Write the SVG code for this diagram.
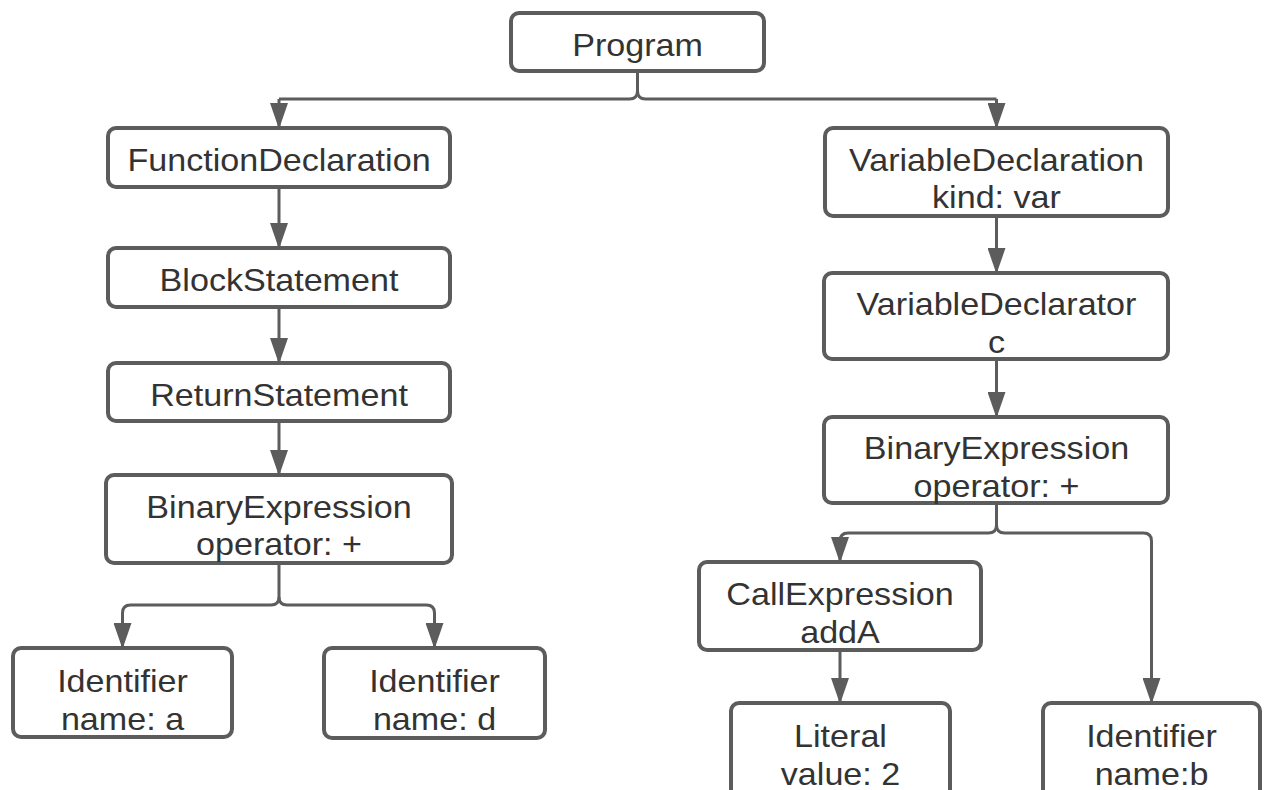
<svg xmlns="http://www.w3.org/2000/svg" width="1270" height="790" viewBox="0 0 1270 790">
  <style>
    .box { fill: #ffffff; stroke: #5c5c5c; stroke-width: 4; }
    .edge { fill: none; stroke: #5c5c5c; stroke-width: 3; marker-end: url(#ah); }
    .link { fill: none; stroke: #5c5c5c; stroke-width: 3; }
    .t { font-family: "Liberation Sans", Arial, sans-serif; font-size: 31px; fill: #333333; text-anchor: middle; }
  </style>
  <defs>
    <marker id="ah" markerUnits="userSpaceOnUse" markerWidth="26" markerHeight="18" viewBox="0 0 26 18" refX="25" refY="9" orient="auto">
      <path d="M0 0 L26 9 L0 18 Z" fill="#5c5c5c"/>
    </marker>
  </defs>
  <rect width="1270" height="790" fill="#ffffff"/>

  <!-- connectors -->
  <g id="connectors">
    <!-- Program fan-out -->
    <path class="link" d="M637.5 71 V91 Q637.5 99 629.5 99 H279"/>
    <path class="edge" d="M279 99 V128"/>
    <path class="link" d="M637.5 91 Q637.5 99 645.5 99 H996.5"/>
    <path class="edge" d="M996.5 99 V128"/>
    <!-- left chain -->
    <path class="edge" d="M279 187 V248"/>
    <path class="edge" d="M279 307 V363"/>
    <path class="edge" d="M279 421 V475"/>
    <!-- left binary expression fan-out -->
    <path class="edge" d="M279 563 V597 Q279 605 271 605 H130.5 Q122.5 605 122.5 613 V648"/>
    <path class="edge" d="M279 597 Q279 605 287 605 H426.5 Q434.5 605 434.5 613 V648"/>
    <!-- right chain -->
    <path class="edge" d="M996.5 216 V273"/>
    <path class="edge" d="M996.5 359 V417"/>
    <!-- right binary expression fan-out -->
    <path class="edge" d="M996.5 503 V525 Q996.5 533 988.5 533 H848 Q840 533 840 541 V562"/>
    <path class="edge" d="M996.5 525 Q996.5 533 1004.5 533 H1143.5 Q1151.5 533 1151.5 541 V703"/>
    <path class="edge" d="M840 650 V703"/>
  </g>

  <!-- nodes -->
  <g id="program">
    <rect class="box" x="511" y="13" width="253" height="58" rx="8"/>
    <text class="t" transform="translate(637.5 56) scale(1.1 1)">Program</text>
  </g>
  <g id="function-declaration">
    <rect class="box" x="108" y="128" width="342" height="59" rx="8"/>
    <text class="t" transform="translate(279 171) scale(1.1 1)">FunctionDeclaration</text>
  </g>
  <g id="block-statement">
    <rect class="box" x="108" y="248" width="342" height="59" rx="8"/>
    <text class="t" transform="translate(279 291) scale(1.1 1)">BlockStatement</text>
  </g>
  <g id="return-statement">
    <rect class="box" x="108" y="363" width="342" height="58" rx="8"/>
    <text class="t" transform="translate(279 406) scale(1.1 1)">ReturnStatement</text>
  </g>
  <g id="binary-expression-left">
    <rect class="box" x="106" y="475" width="346" height="88" rx="8"/>
    <text class="t" transform="translate(279 518) scale(1.1 1)">BinaryExpression</text>
    <text class="t" transform="translate(279 555) scale(1.1 1)">operator: +</text>
  </g>
  <g id="identifier-a">
    <rect class="box" x="13" y="648" width="219" height="89" rx="8"/>
    <text class="t" transform="translate(122.5 692) scale(1.1 1)">Identifier</text>
    <text class="t" transform="translate(122.5 730) scale(1.1 1)">name: a</text>
  </g>
  <g id="identifier-d">
    <rect class="box" x="324" y="648" width="221" height="90" rx="8"/>
    <text class="t" transform="translate(434.5 692) scale(1.1 1)">Identifier</text>
    <text class="t" transform="translate(434.5 730) scale(1.1 1)">name: d</text>
  </g>
  <g id="variable-declaration">
    <rect class="box" x="825" y="128" width="343" height="88" rx="8"/>
    <text class="t" transform="translate(996.5 171) scale(1.1 1)">VariableDeclaration</text>
    <text class="t" transform="translate(996.5 208) scale(1.1 1)">kind: var</text>
  </g>
  <g id="variable-declarator">
    <rect class="box" x="824" y="273" width="344" height="86" rx="8"/>
    <text class="t" transform="translate(996.5 315) scale(1.1 1)">VariableDeclarator</text>
    <text class="t" transform="translate(996.5 353) scale(1.1 1)">c</text>
  </g>
  <g id="binary-expression-right">
    <rect class="box" x="824" y="417" width="344" height="86" rx="8"/>
    <text class="t" transform="translate(996.5 459) scale(1.1 1)">BinaryExpression</text>
    <text class="t" transform="translate(996.5 497) scale(1.1 1)">operator: +</text>
  </g>
  <g id="call-expression">
    <rect class="box" x="699" y="562" width="282" height="88" rx="8"/>
    <text class="t" transform="translate(840 605) scale(1.1 1)">CallExpression</text>
    <text class="t" transform="translate(840 643) scale(1.1 1)">addA</text>
  </g>
  <g id="literal">
    <rect class="box" x="731" y="703" width="219" height="100" rx="8"/>
    <text class="t" transform="translate(840.5 747) scale(1.1 1)">Literal</text>
    <text class="t" transform="translate(840.5 785) scale(1.1 1)">value: 2</text>
  </g>
  <g id="identifier-b">
    <rect class="box" x="1043" y="703" width="217" height="100" rx="8"/>
    <text class="t" transform="translate(1151.5 747) scale(1.1 1)">Identifier</text>
    <text class="t" transform="translate(1151.5 785) scale(1.1 1)">name:b</text>
  </g>
</svg>
